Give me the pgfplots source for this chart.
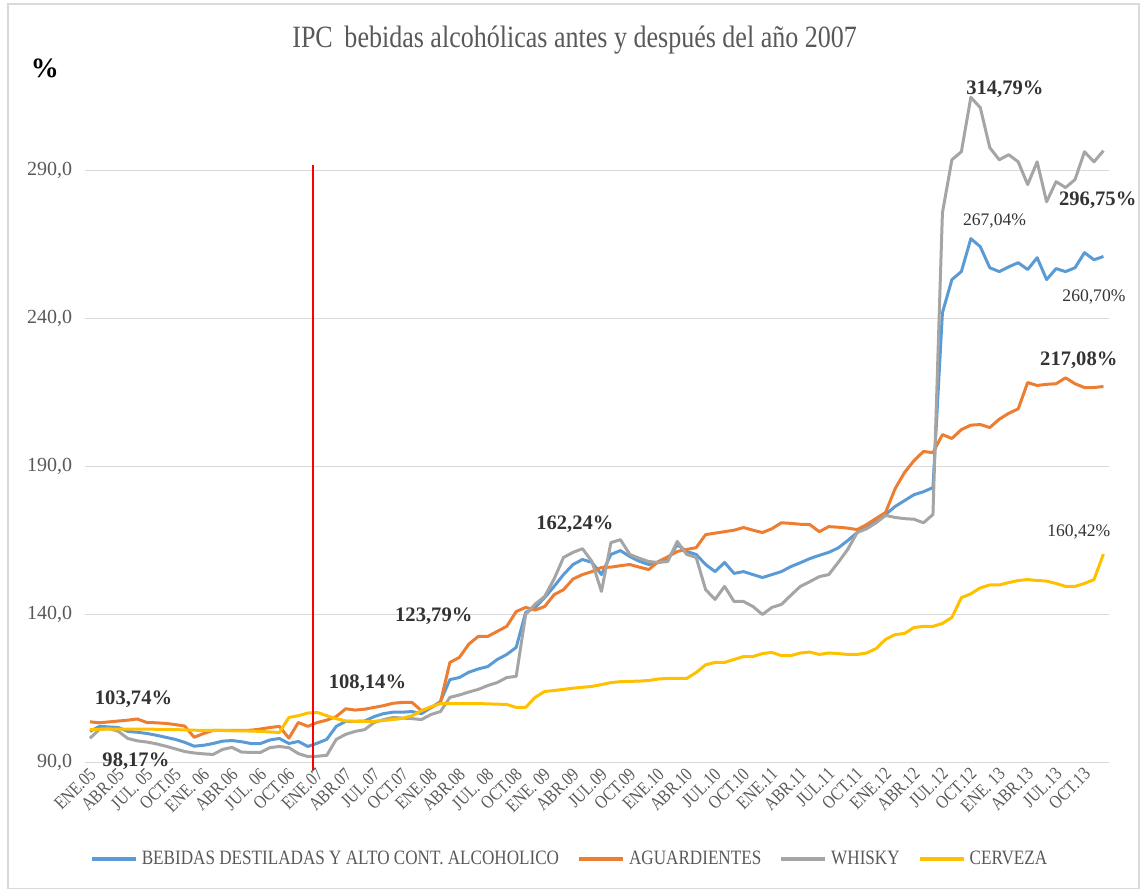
\documentclass[border=0pt]{standalone}
\usepackage{pgfplots}
\pgfplotsset{compat=1.18}
\usepackage{pgfplotstable}
\usepackage{fontspec}
\setmainfont{Liberation Serif}
\newfontfamily\narrowfont[FakeStretch=0.84]{Liberation Serif}

\definecolor{cBlue}{HTML}{5B9BD5}
\definecolor{cOrange}{HTML}{ED7D31}
\definecolor{cGray}{HTML}{A5A5A5}
\definecolor{cYellow}{HTML}{FFC000}
\definecolor{txt}{HTML}{595959}
\definecolor{gridc}{HTML}{D9D9D9}
\definecolor{lbl}{HTML}{333333}

% monthly IPC, ENE.05 = 0 ... DIC.13 = 107
\pgfplotstableread{
i bebidas aguard whisky cerveza
0 100.5 103.74 98.17 101.1
1 102.2 103.4 101.2 101.2
2 102.0 103.7 101.5 101.3
3 101.8 104.0 100.5 101.3
4 100.5 104.3 98.1 101.3
5 100.2 104.7 97.3 101.3
6 99.8 103.5 96.9 101.3
7 99.2 103.4 96.3 101.2
8 98.5 103.2 95.5 101.2
9 97.8 102.8 94.6 101.1
10 96.8 102.3 93.7 101.0
11 95.5 98.5 93.2 100.9
12 95.8 99.8 92.9 100.8
13 96.4 100.8 92.7 100.8
14 97.2 100.8 94.4 100.8
15 97.4 100.8 95.1 100.7
16 97.0 100.8 93.5 100.7
17 96.4 100.9 93.4 100.6
18 96.4 101.3 93.4 100.5
19 97.6 101.8 95.0 100.3
20 98.1 102.2 95.4 100.1
21 96.4 98.2 95.0 105.2
22 97.1 103.5 93.0 105.8
23 95.4 102.2 92.0 106.7
24 96.5 103.5 92.1 106.9
25 97.8 104.3 92.4 105.8
26 102.2 105.5 97.8 104.8
27 103.9 108.14 99.5 104.0
28 103.9 107.7 100.5 103.9
29 104.0 108.0 101.1 103.9
30 105.5 108.6 103.5 103.9
31 106.5 109.2 104.5 104.2
32 107.0 110.0 105.2 104.5
33 107.0 110.3 105.0 104.9
34 107.2 110.3 104.8 105.8
35 106.5 107.5 104.5 107.5
36 108.5 108.5 106.2 108.8
37 110.6 110.3 107.2 109.9
38 118.0 123.79 112.0 109.9
39 118.7 125.5 112.8 109.9
40 120.5 130.0 113.8 109.9
41 121.6 132.6 114.7 109.9
42 122.4 132.6 116.0 109.8
43 124.8 134.3 117.0 109.7
44 126.5 136.0 118.7 109.6
45 128.9 141.0 119.1 108.6
46 140.7 142.4 140.0 108.6
47 142.4 141.5 143.5 112.0
48 145.7 142.7 146.1 114.0
49 149.5 146.7 152.0 114.3
50 153.5 148.4 159.3 114.7
51 156.9 152.0 161.0 115.1
52 158.6 153.5 162.24 115.4
53 157.6 154.5 157.9 115.7
54 153.5 155.9 147.8 116.3
55 160.3 156.0 164.3 117.0
56 161.6 156.5 165.3 117.3
57 159.6 156.9 160.3 117.4
58 158.0 156.0 159.0 117.5
59 156.9 155.2 157.9 117.7
60 157.5 157.9 157.6 118.2
61 158.6 159.5 157.9 118.4
62 163.6 161.3 164.7 118.4
63 161.3 162.0 160.3 118.4
64 160.3 162.6 159.3 120.4
65 156.9 167.0 148.4 123.0
66 154.5 167.5 145.1 123.8
67 157.6 168.0 149.5 123.8
68 153.9 168.5 144.4 124.8
69 154.5 169.4 144.4 125.8
70 153.5 168.5 142.7 125.8
71 152.5 167.7 140.0 126.8
72 153.5 169.0 142.4 127.2
73 154.5 171.0 143.4 126.1
74 156.2 170.8 146.5 126.1
75 157.5 170.5 149.5 127.0
76 158.9 170.4 151.1 127.3
77 160.0 168.0 152.8 126.5
78 161.0 169.7 153.5 127.0
79 162.5 169.5 157.6 126.8
80 165.0 169.2 162.0 126.5
81 167.7 168.7 167.7 126.5
82 169.7 170.4 169.0 127.0
83 171.5 172.5 171.0 128.5
84 173.8 174.5 173.5 131.6
85 176.5 182.5 172.8 133.2
86 178.5 188.0 172.4 133.6
87 180.5 192.0 172.2 135.6
88 181.5 195.1 171.0 136.0
89 182.9 194.7 173.8 136.0
90 242.0 200.8 275.8 137.0
91 253.2 199.5 293.7 139.0
92 255.9 202.5 296.4 145.7
93 267.04 204.0 314.79 147.0
94 264.3 204.2 311.3 149.0
95 257.2 203.2 297.8 150.0
96 255.9 206.0 293.7 150.0
97 257.5 208.0 295.4 150.8
98 258.9 209.5 293.0 151.5
99 256.6 218.4 285.3 151.8
100 260.6 217.4 293.0 151.5
101 253.2 217.8 279.5 151.3
102 256.9 218.0 286.3 150.5
103 255.9 220.0 284.3 149.5
104 257.2 218.0 287.0 149.5
105 262.3 216.7 296.4 150.5
106 259.9 216.7 293.0 151.8
107 261.0 217.08 296.75 160.42
}\ipc

\begin{document}
\begin{tikzpicture}
% frame in picture pixels (1px = 0.5pt), origin at the top left
\begin{scope}[shift={(-42.65pt,381.5pt)}, x=0.5pt, y=-0.5pt]
  \path[use as bounding box] (0,0) rectangle (1143,892);
  \draw[gridc, line width=0.8pt] (8,4) rectangle (1140,889);
  \node[text=txt, font=\narrowfont\fontsize{15.5}{17}\selectfont] at (575,40) {IPC\, bebidas alcohólicas antes y después del año 2007};
  \node[font=\bfseries\fontsize{14}{16}\selectfont] at (45,68) {\%};
\end{scope}

\begin{axis}[
  at={(0,0)}, anchor=south west,
  scale only axis, width=512.3pt, height=340.5pt,
  xmin=-0.5, xmax=107.6, ymin=90, ymax=320,
  axis line style={draw=none},
  ymajorgrids, grid style={gridc, line width=0.6pt},
  major tick length=0pt,
  ytick={90,140,190,240,290},
  yticklabel={\pgfmathprintnumber[fixed,fixed zerofill,precision=1,use comma,assume math mode=true]{\tick}},
  yticklabel style={font=\fontsize{10}{12}\selectfont, text=txt, xshift=-3pt},
  xtick={0,3,...,105},
  xticklabels={ENE.05, ABR.05, JUL. 05, OCT.05, ENE. 06, ABR.06, JUL. 06, OCT.06,
    ENE.07, ABR.07, JUL.07, OCT.07, ENE.08, ABR.08, JUL. 08, OCT.08,
    ENE. 09, ABR.09, JUL.09, OCT.09, ENE.10, ABR.10, JUL.10, OCT.10,
    ENE.11, ABR.11, JUL.11, OCT.11, ENE.12, ABR.12, JUL.12, OCT.12,
    ENE. 13, ABR.13, JUL.13, OCT.13},
  xticklabel style={rotate=45, anchor=east, inner sep=1pt, yshift=-4pt, xshift=-1pt,
    font=\narrowfont\fontsize{9.3}{10}\selectfont, text=txt},
  clip=false,
  legend columns=4,
  legend style={at={(0.474,-0.1424)}, anchor=center, draw=none, fill=none,
    font=\narrowfont\fontsize{10.2}{11}\selectfont, text=txt,
    /tikz/every even column/.append style={column sep=7pt}},
  legend image code/.code={\draw[#1, line width=2pt] (0pt,0pt) -- (22pt,0pt);},
  every axis plot/.append style={line width=1.5pt, line join=round, no markers},
]
\addplot[cBlue] table[x=i, y=bebidas] {\ipc};
\addlegendentry{BEBIDAS DESTILADAS Y ALTO CONT. ALCOHOLICO}
\addplot[cOrange] table[x=i, y=aguard] {\ipc};
\addlegendentry{AGUARDIENTES}
\addplot[cGray] table[x=i, y=whisky] {\ipc};
\addlegendentry{WHISKY}
\addplot[cYellow] table[x=i, y=cerveza] {\ipc};
\addlegendentry{CERVEZA}

% 2007 marker
\draw[red, line width=1pt] (axis cs:23.5,292) -- (axis cs:23.5,87.3);

% value labels
\begin{scope}[every node/.style={text=lbl, font=\bfseries\fontsize{10.3}{12}\selectfont}]
\node at (axis cs:4.6,111.3) {103,74\%};
\node at (axis cs:4.85,90.3) {98,17\%};
\node at (axis cs:29.3,116.9) {108,14\%};
\node at (axis cs:36.3,139.5) {123,79\%};
\node at (axis cs:51.2,170.6) {162,24\%};
\node at (axis cs:96.6,317.4) {314,79\%};
\node at (axis cs:106.4,279.9) {296,75\%};
\node at (axis cs:104.4,226.1) {217,08\%};
\end{scope}
\begin{scope}[every node/.style={text=lbl, font=\fontsize{8.8}{10}\selectfont}]
\node at (axis cs:95.5,273.1) {267,04\%};
\node at (axis cs:106.0,247.3) {260,70\%};
\node at (axis cs:104.4,168.0) {160,42\%};
\end{scope}
\end{axis}
\end{tikzpicture}
\end{document}
